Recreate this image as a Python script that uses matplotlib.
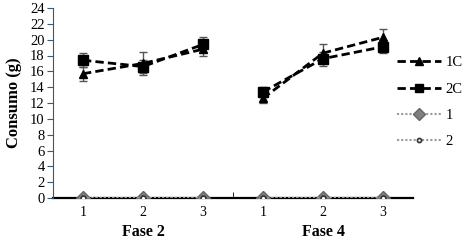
import matplotlib.pyplot as plt
import numpy as np

plt.rcParams['font.family'] = ['Liberation Serif', 'DejaVu Serif']

# datos
sesiones = ['1', '2', '3', '1', '2', '3']
fases = ['Fase 2', 'Fase 4']
c1 = [15.7, 17.0, 18.8, 12.6, 18.3, 20.3]
c1_err = [0.9, 1.4, 0.9, 0.6, 1.1, 1.0]
c2 = [17.4, 16.6, 19.4, 13.4, 17.6, 19.1]
c2_err = [0.9, 0.8, 1.0, 0.6, 0.9, 0.8]
s1 = [0, 0, 0, 0, 0, 0]
s2 = [0, 0, 0, 0, 0, 0]

fig = plt.figure(figsize=(4.65, 2.44), dpi=100)
ax = fig.add_axes([53/465, 46/244, 360/465, 190/244])

x = np.arange(len(sesiones))
grupos = [slice(0, 3), slice(3, 6)]

for g in grupos:
    ax.errorbar(x[g], c1[g], yerr=c1_err[g], fmt='none', ecolor='#555555',
                elinewidth=1, capsize=3, capthick=1, zorder=2)
    ax.errorbar(x[g], c2[g], yerr=c2_err[g], fmt='none', ecolor='#555555',
                elinewidth=1, capsize=3, capthick=1, zorder=2)
    l1, = ax.plot(x[g], c1[g], color='black', ls=(0, (3, 1.5)), lw=2,
                  marker='^', ms=6, zorder=3)
    l2, = ax.plot(x[g], c2[g], color='black', ls=(0, (3, 1.5)), lw=2,
                  marker='s', ms=7, zorder=3)
    l3, = ax.plot(x[g], s1[g], color='#999999', ls=(0, (1, 1)), lw=1.5,
                  marker='D', ms=7, mfc='#808080', mec='#666666', zorder=4)
    l4, = ax.plot(x[g], s2[g], color='#999999', ls=(0, (1, 1)), lw=1.5,
                  marker='o', ms=3.5, mfc='white', mec='#333333', mew=1.2, zorder=5)

ax.set_xlim(-0.5, 5.5)
ax.set_ylim(0, 24)
ax.set_yticks(range(0, 25, 2))
ax.set_xticks(x)
ax.set_xticklabels(sesiones)
ax.set_xticks([2.5], minor=True)
ax.tick_params(axis='x', which='major', length=0, labelsize=10, pad=6)
ax.tick_params(axis='x', which='minor', length=4, direction='in', color='black')
ax.tick_params(axis='y', length=4, color='#3a5878', labelsize=10.5, pad=2)

for s in ['top', 'right']:
    ax.spines[s].set_visible(False)
ax.spines['left'].set_color('#3a5878')
ax.spines['bottom'].set_linewidth(1.6)
ax.spines['bottom'].set_zorder(1)

ax.set_ylabel('Consumo (g)', fontsize=12, fontweight='bold', labelpad=6)

for i, f in enumerate(fases):
    ax.text(1 + 3*i, -4.3, f, ha='center', va='center', fontsize=11.5,
            fontweight='bold', transform=ax.transData, clip_on=False)

fig.legend([l1, l2, l3, l4], ['1C', '2C', '1', '2'], loc='upper left',
           bbox_to_anchor=(384/465, 1 - 43/244), frameon=False, fontsize=10.5,
           handlelength=3, handletextpad=0.3, labelspacing=0.9,
           markerscale=0.85)

fig.savefig('out.png', dpi=100)
